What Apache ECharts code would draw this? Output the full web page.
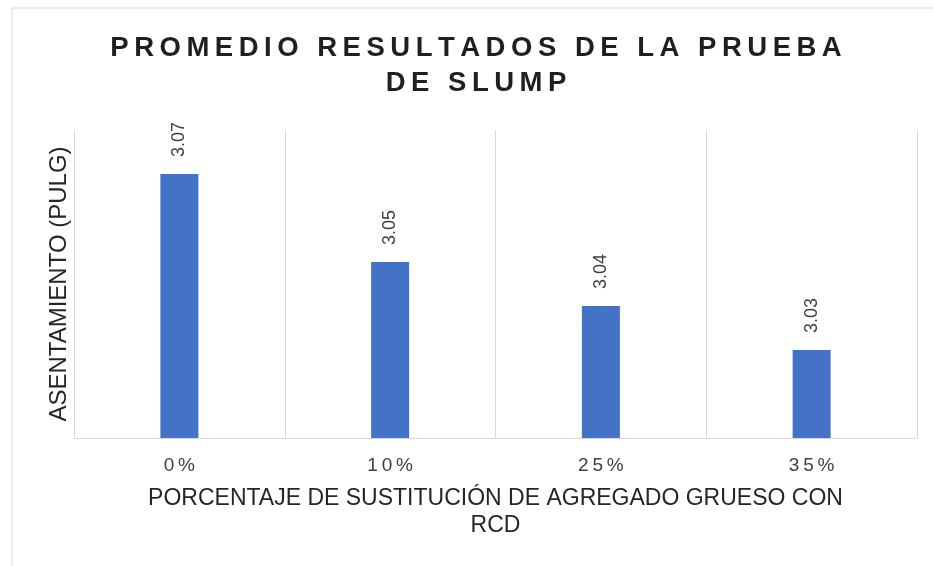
<!DOCTYPE html>
<html>
<head>
<meta charset="utf-8">
<script src="https://cdn.jsdelivr.net/npm/echarts@6/dist/echarts.min.js"></script>
<style>
  html, body { margin: 0; padding: 0; background: #fff; }
  #chart { width: 933px; height: 566px; }
</style>
</head>
<body>
<div id="chart"></div>
<script>
// datos del grafico
const categories = ["0%", "10%", "25%", "35%"];
const slumpValues = [3.07, 3.05, 3.04, 3.03];
const yMin = 3.01;
const yMax = 3.08;

// separa letras para imitar el espaciado del titulo
function spaced(txt, sep) {
  return txt.split("").join(sep);
}

const chart = echarts.init(document.getElementById("chart"));
chart.setOption({
  animation: false,
  backgroundColor: "#fff",
  title: {
    text: spaced("PROMEDIO RESULTADOS DE LA PRUEBA", "\u2009") + "\n" + spaced("DE SLUMP", "\u2009"),
    left: 471,
    textAlign: "center",
    top: 26,
    textStyle: {
      fontFamily: "Liberation Sans",
      fontWeight: "bold",
      fontSize: 27.5,
      lineHeight: 35,
      color: "#1f1f1f"
    }
  },
  graphic: [
    {
      type: "rect",
      shape: { x: 12, y: 8, width: 940, height: 600 },
      style: { fill: "none", stroke: "#d9d9d9", lineWidth: 1 },
      silent: true
    }
  ],
  grid: {
    left: 74,
    right: 16,
    top: 130,
    bottom: 128
  },
  xAxis: {
    type: "category",
    data: categories,
    axisLine: { lineStyle: { color: "#d9d9d9", width: 1 } },
    axisTick: { show: false },
    splitLine: { show: true, lineStyle: { color: "#d9d9d9", width: 1 } },
    axisLabel: {
      margin: 18,
      fontFamily: "Liberation Sans",
      fontSize: 19,
      color: "#404040",
      formatter: function (v) { return spaced(v, "\u2009"); }
    },
    name: "PORCENTAJE DE SUSTITUCIÓN DE AGREGADO GRUESO CON\nRCD",
    nameLocation: "middle",
    nameGap: 47,
    nameTextStyle: {
      fontFamily: "Liberation Sans",
      fontSize: 23,
      lineHeight: 27,
      color: "#262626"
    }
  },
  yAxis: {
    type: "value",
    min: yMin,
    max: yMax,
    axisLine: { show: false },
    axisTick: { show: false },
    axisLabel: { show: false },
    splitLine: { show: false },
    name: "ASENTAMIENTO (PULG)",
    nameLocation: "middle",
    nameGap: 3,
    nameTextStyle: {
      fontFamily: "Liberation Sans",
      fontSize: 24,
      color: "#262626"
    }
  },
  series: [
    {
      type: "bar",
      data: slumpValues,
      barWidth: 38,
      itemStyle: { color: "#4472C4" },
      label: {
        show: true,
        position: "top",
        distance: 17,
        rotate: 90,
        align: "left",
        verticalAlign: "middle",
        fontFamily: "Liberation Sans",
        fontSize: 18,
        color: "#404040",
        formatter: function (p) { return p.value.toFixed(2); }
      }
    }
  ]
});
</script>
</body>
</html>
